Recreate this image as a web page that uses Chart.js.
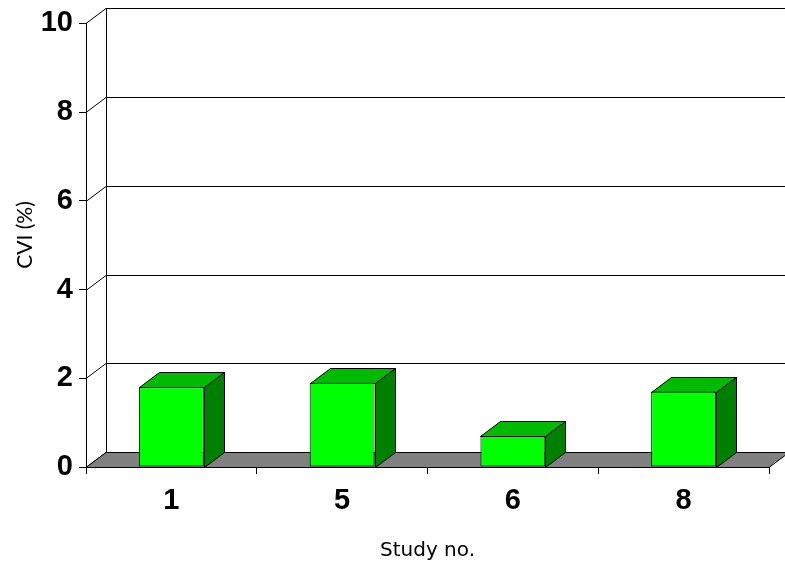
<!DOCTYPE html>
<html>
<head>
<meta charset="utf-8">
<title>CVI by study</title>
<script src="https://cdn.jsdelivr.net/npm/chart.js@4.4.1/dist/chart.umd.min.js"></script>
<style>
  html, body { margin: 0; padding: 0; background: #ffffff; }
  #wrap { width: 785px; height: 568px; }
</style>
</head>
<body>
<div id="wrap"><canvas id="chart" width="785" height="568"></canvas></div>
<script>
// Study numbers along the x axis
const studies = ['1', '5', '6', '8'];
// CVI (%) per study
const cviValues = [1.8, 1.9, 0.7, 1.7];
// Value axis ticks
const yTicks = [0, 2, 4, 6, 8, 10];

const yTitle = 'CVI (%)';
const xTitle = 'Study no.';

// Depth offset of the pseudo-3D box (x right, y up)
const DEPTH_X = 20;
const DEPTH_Y = -15;

const FRONT = '#00ff00';
const TOP = '#00bb00';
const SIDE = '#008000';
const FLOOR = '#808080';

function poly(ctx, pts, fill) {
  ctx.beginPath();
  ctx.moveTo(pts[0][0], pts[0][1]);
  for (let i = 1; i < pts.length; i++) ctx.lineTo(pts[i][0], pts[i][1]);
  ctx.closePath();
  ctx.fillStyle = fill;
  ctx.fill();
  ctx.stroke();
}

const box3d = {
  id: 'box3d',
  beforeDatasetsDraw(chart) {
    const ctx = chart.ctx;
    const area = chart.chartArea;
    const ys = chart.scales.y;
    ctx.save();
    ctx.strokeStyle = '#000000';
    ctx.lineWidth = 1;

    // back wall: left edge and gridlines, joined to the front axis ticks
    ctx.beginPath();
    ctx.moveTo(area.left + DEPTH_X + 0.5, ys.getPixelForValue(yTicks[yTicks.length - 1]) + DEPTH_Y);
    ctx.lineTo(area.left + DEPTH_X + 0.5, area.bottom + DEPTH_Y);
    ctx.stroke();
    yTicks.forEach(v => {
      const y = Math.round(ys.getPixelForValue(v)) + 0.5;
      ctx.beginPath();
      ctx.moveTo(area.left, y);
      ctx.lineTo(area.left + DEPTH_X, y + DEPTH_Y);
      ctx.lineTo(area.right + DEPTH_X + 40, y + DEPTH_Y);
      ctx.stroke();
    });

    // floor
    const b = Math.round(area.bottom) + 0.5;
    poly(ctx, [
      [area.left, b],
      [area.right, b],
      [area.right + DEPTH_X, b + DEPTH_Y],
      [area.left + DEPTH_X, b + DEPTH_Y]
    ], FLOOR);

    // top and side faces of every column
    const meta = chart.getDatasetMeta(0);
    meta.data.forEach(bar => {
      const p = bar.getProps(['x', 'y', 'base', 'width'], true);
      const l = Math.round(p.x - p.width / 2) + 0.5;
      const r = Math.round(p.x + p.width / 2) + 0.5;
      const t = Math.round(p.y) + 0.5;
      const base = Math.round(p.base) + 0.5;
      poly(ctx, [[l, t], [r, t], [r + DEPTH_X, t + DEPTH_Y], [l + DEPTH_X, t + DEPTH_Y]], TOP);
      poly(ctx, [[r, t], [r + DEPTH_X, t + DEPTH_Y], [r + DEPTH_X, base + DEPTH_Y], [r, base]], SIDE);
    });
    ctx.restore();
  },
  afterDraw(chart) {
    const ctx = chart.ctx;
    ctx.save();
    ctx.translate(25, 235);
    ctx.rotate(-Math.PI / 2);
    ctx.font = '21px Lato';
    ctx.fillStyle = '#000000';
    ctx.textAlign = 'center';
    ctx.textBaseline = 'middle';
    ctx.fillText(yTitle, 0, 0);
    ctx.restore();
  }
};

new Chart(document.getElementById('chart'), {
  type: 'bar',
  data: {
    labels: studies,
    datasets: [{
      data: cviValues,
      backgroundColor: FRONT,
      borderColor: '#000000',
      borderWidth: 1,
      borderSkipped: false,
      categoryPercentage: 1,
      barPercentage: 0.38
    }]
  },
  options: {
    responsive: false,
    animation: false,
    devicePixelRatio: 1,
    layout: { padding: { left: 0, top: 23, right: 16, bottom: 0 } },
    plugins: {
      legend: { display: false },
      tooltip: { enabled: false }
    },
    scales: {
      x: {
        grid: {
          offset: true,
          drawOnChartArea: false,
          drawTicks: true,
          tickLength: 7,
          color: '#000000'
        },
        border: { display: true, color: '#000000', width: 1 },
        ticks: {
          color: '#000000',
          padding: 10,
          font: { family: 'Liberation Sans', size: 29, weight: 'bold' }
        },
        title: {
          display: true,
          text: xTitle,
          color: '#000000',
          font: { family: 'DejaVu Sans', size: 20 },
          padding: { top: 0, bottom: 5 }
        },
        afterFit(scale) { scale.height = 101; }
      },
      y: {
        min: 0,
        max: 10,
        afterBuildTicks(scale) { scale.ticks = yTicks.map(v => ({ value: v })); },
        grid: {
          drawOnChartArea: false,
          drawTicks: true,
          tickLength: 7,
          color: '#000000'
        },
        border: { display: true, color: '#000000', width: 1 },
        ticks: {
          color: '#000000',
          padding: 6,
          font: { family: 'Liberation Sans', size: 29, weight: 'bold' }
        },
        afterFit(scale) { scale.width = 86; }
      }
    }
  },
  plugins: [box3d]
});
</script>
</body>
</html>
